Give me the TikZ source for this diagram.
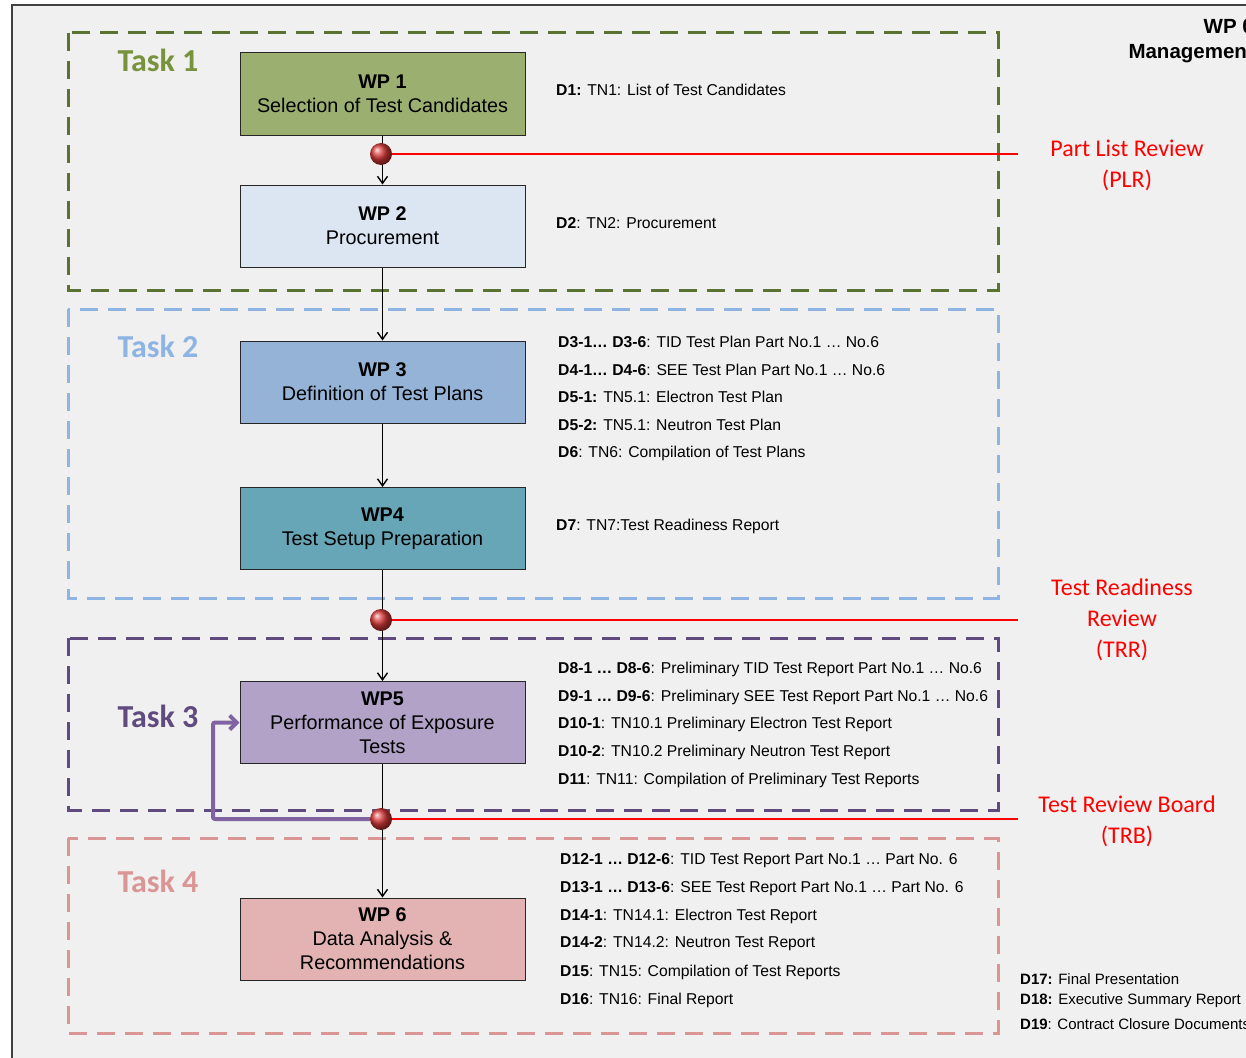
\documentclass[tikz,border=0pt]{standalone}
\usepackage{fontspec}
\setmainfont{Liberation Sans}
\newfontfamily\calibrifont{Carlito}
\usetikzlibrary{positioning,arrows.meta}

\definecolor{bggray}{HTML}{F0F0F0}
\definecolor{frame}{HTML}{404040}
\definecolor{taskA}{HTML}{5B7332}
\definecolor{taskAtext}{HTML}{77933C}
\definecolor{taskB}{HTML}{8EB4E3}
\definecolor{taskC}{HTML}{5F4B7D}
\definecolor{taskD}{HTML}{D99694}
\definecolor{wpA}{HTML}{9BB070}
\definecolor{wpB}{HTML}{DCE6F2}
\definecolor{wpC}{HTML}{95B3D7}
\definecolor{wpD}{HTML}{67A6B6}
\definecolor{wpE}{HTML}{B2A2C7}
\definecolor{wpF}{HTML}{E3B3B3}
\definecolor{loopcol}{HTML}{8064A2}
\definecolor{ballred}{HTML}{D83838}

\tikzset{
  wpbox/.style={draw=black!85, line width=1pt, minimum width=285pt, minimum height=82pt,
    align=center, inner sep=0pt, font=\fontsize{19.8}{24}\selectfont},
  taskbox/.style={dash pattern=on 18pt off 10pt, line width=3pt},
  tasklabel/.style={font=\calibrifont\bfseries\fontsize{32}{36}\selectfont},
  deliv/.style={anchor=west, inner sep=0pt, font=\fontsize{15.7}{18}\selectfont},
  smalldeliv/.style={anchor=west, inner sep=0pt, font=\fontsize{15}{17}\selectfont},
  ball/.style={circle, inner sep=0pt, minimum size=22pt, shading=ball, ball color=ballred},
  review/.style={red, line width=1.5pt},
  revlabel/.style={red, align=center, inner sep=0pt, font=\calibrifont\fontsize{24}{31}\selectfont},
  flow/.style={-{Straight Barb[length=7pt,width=10pt,line width=1.4pt]}, line width=1.4pt},
  feedback/.style={-{Straight Barb[length=7pt,width=14pt]}, line width=4pt, draw=loopcol, rounded corners=2pt},
}

\begin{document}
\begin{tikzpicture}[x=1pt,y=-1pt]
  \useasboundingbox (0,0) rectangle (1246,1057);
  % background
  \draw[fill=bggray, draw=frame, line width=1.5pt] (12,5) rectangle (1270,1080);

  % task areas
  \draw[taskbox, taskA] (68,33) rectangle (998,290);
  \draw[taskbox, taskB] (68,309) rectangle (998,598);
  \draw[taskbox, taskC] (68,638) rectangle (998,810);
  \draw[taskbox, taskD] (68,838) rectangle (998,1033);
  \node[tasklabel, taskAtext] (task1) at (158,60) {Task 1};
  \node[tasklabel, taskB] (task2) at (158,346) {Task 2};
  \node[tasklabel, taskC] (task3) at (158,716) {Task 3};
  \node[tasklabel, taskD] (task4) at (158,881) {Task 4};

  % work packages
  \node[wpbox, fill=wpA] (wp1) at (382.5,94) {\textbf{WP 1}\\Selection of Test Candidates};
  \node[wpbox, fill=wpB] (wp2) at (382.5,226) {\textbf{WP 2}\\Procurement};
  \node[wpbox, fill=wpC] (wp3) at (382.5,382) {\textbf{WP 3}\\Definition of Test Plans};
  \node[wpbox, fill=wpD] (wp4) at (382.5,528.5) {\textbf{WP4}\\Test Setup Preparation};
  \node[wpbox, fill=wpE] (wp5) at (382.5,722.5) {\textbf{WP5}\\Performance of Exposure\\Tests};
  \node[wpbox, fill=wpF] (wp6) at (382.5,939) {\textbf{WP 6}\\Data Analysis \&\\Recommendations};

  % flow
  \draw[flow] (wp1) -- (wp2);
  \draw[flow] (wp2) -- (wp3);
  \draw[flow] (wp3) -- (wp4);
  \draw[flow] (wp4) -- (wp5);
  \draw[flow] (wp5) -- (wp6);

  % reviews
  \node[ball] (plr) at (381,154) {};
  \node[ball] (trr) at (381,620) {};
  \node[ball] (trb) at (381,819) {};
  \coordinate (plrend) at (1018,154);
  \coordinate (trrend) at (1018,620);
  \coordinate (trbend) at (1018,819);
  \draw[review] (plr) -- (plrend);
  \draw[review] (trr) -- (trrend);
  \draw[review] (trb) -- (trbend);
  \node[revlabel] (plrtext) at (1127,165) {Part List Review\\(PLR)};
  \node[revlabel] (trrtext) at (1122,620) {Test Readiness\\Review\\(TRR)};
  \node[revlabel] (trbtext) at (1127,821) {Test Review Board\\(TRB)};

  % loop back to WP5
  \coordinate (loopcorner) at (213,819);
  \draw[feedback] (trb) -- (loopcorner) |- (wp5);

  % management
  \node[anchor=north east, align=right, inner sep=0pt, font=\bfseries\fontsize{20.5}{25}\selectfont]
    (wp0) at (1254,19) {WP 0\\Management};

  % deliverables
  \node[deliv] (d1) at (556,90) {\textbf{D1:} TN1: List of Test Candidates};
  \node[deliv] (d2) at (556,223) {\textbf{D2}: TN2: Procurement};
  \node[deliv] (d3) at (558,342) {\textbf{D3-1… D3-6}: TID Test Plan Part No.1 … No.6};
  \node[deliv] (d4) at (558,370) {\textbf{D4-1… D4-6}: SEE Test Plan Part No.1 … No.6};
  \node[deliv] (d51) at (558,397) {\textbf{D5-1:} TN5.1: Electron Test Plan};
  \node[deliv] (d52) at (558,425) {\textbf{D5-2:} TN5.1: Neutron Test Plan};
  \node[deliv] (d6) at (558,453) {\textbf{D6}: TN6: Compilation of Test Plans};
  \node[deliv] (d7) at (556,526) {\textbf{D7}: TN7:Test Readiness Report};
  \node[deliv] (d8) at (558,669) {\textbf{D8-1 … D8-6}: Preliminary TID Test Report Part No.1 … No.6};
  \node[deliv] (d9) at (558,697) {\textbf{D9-1 … D9-6}: Preliminary SEE Test Report Part No.1 … No.6};
  \node[deliv] (d101) at (558,724) {\textbf{D10-1}: TN10.1 Preliminary Electron Test Report};
  \node[deliv] (d102) at (558,752) {\textbf{D10-2}: TN10.2 Preliminary Neutron Test Report};
  \node[deliv] (d11) at (558,780) {\textbf{D11}: TN11: Compilation of Preliminary Test Reports};
  \node[deliv] (d12) at (560,861) {\textbf{D12-1 … D12-6}: TID Test Report Part No.1 … Part No. 6};
  \node[deliv] (d13) at (560,889) {\textbf{D13-1 … D13-6}: SEE Test Report Part No.1 … Part No. 6};
  \node[deliv] (d141) at (560,916) {\textbf{D14-1}: TN14.1: Electron Test Report};
  \node[deliv] (d142) at (560,944) {\textbf{D14-2}: TN14.2: Neutron Test Report};
  \node[deliv] (d15) at (560,972) {\textbf{D15}: TN15: Compilation of Test Reports};
  \node[deliv] (d16) at (560,1000) {\textbf{D16}: TN16: Final Report};
  \node[smalldeliv] (d17) at (1020,979) {\textbf{D17:} Final Presentation};
  \node[smalldeliv] (d18) at (1020,1001) {\textbf{D18:} Executive Summary Report};
  \node[smalldeliv] (d19) at (1020,1024) {\textbf{D19}: Contract Closure Documents};
\end{tikzpicture}
\end{document}
